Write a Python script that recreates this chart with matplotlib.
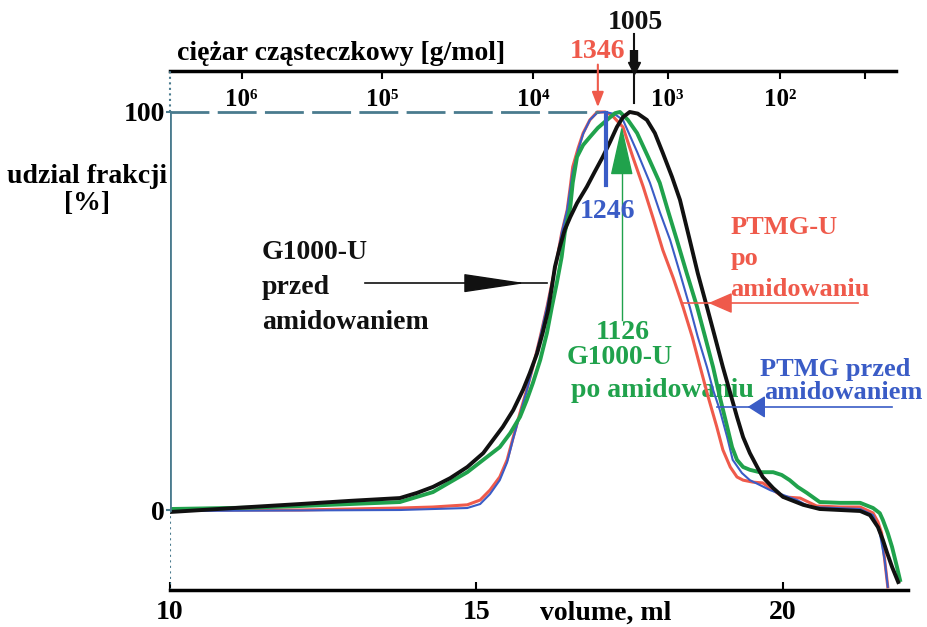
import matplotlib.pyplot as plt

plt.rcParams['font.family'] = ['Liberation Serif', 'DejaVu Serif']
plt.rcParams['font.weight'] = 'bold'

# krzywe GPC: objetosc elucji [ml] i udzial frakcji [%] (odczyt z wykresu)
v_g_przed = [10.0, 11.31, 12.12, 12.94, 13.75, 14.03, 14.29, 14.57, 14.85, 15.11,
             15.27, 15.43, 15.60, 15.76, 15.87, 15.99, 16.08, 16.17, 16.23, 16.28,
             16.36, 16.44, 16.53, 16.64, 16.80, 16.93, 17.06, 17.18, 17.29, 17.39,
             17.50, 17.63, 17.78, 17.91, 18.04, 18.19, 18.32, 18.48, 18.61, 18.76,
             18.89, 19.02, 19.14, 19.25, 19.35, 19.46, 19.58, 19.67, 19.84, 20.00,
             20.33, 20.60, 21.26, 21.42, 21.55, 21.63, 21.70, 21.78, 21.88]
y_g_przed = [-0.5, 0.75, 1.5, 2.3, 3.0, 4.3, 5.8, 8.0, 10.8, 14.3,
             17.6, 20.9, 25.1, 30.2, 34.4, 39.4, 44.5, 50.3, 56.0, 61.1,
             66.1, 70.4, 73.6, 77.1, 81.2, 85.0, 88.7, 92.5, 96.2, 98.7,
             100.0, 99.6, 98.0, 94.7, 89.7, 83.7, 77.9, 67.8, 59.5, 51.0,
             43.5, 35.9, 29.4, 23.4, 18.3, 14.3, 10.8, 8.3, 5.5, 3.3,
             1.3, 0.25, -0.25, -1.3, -4.3, -7.5, -10.8, -14.3, -18.1]

v_g_po = [10.0, 11.31, 12.12, 12.94, 13.75, 14.29, 14.85, 15.11, 15.38, 15.55,
          15.71, 15.82, 15.92, 16.04, 16.15, 16.23, 16.31, 16.39, 16.44, 16.53,
          16.57, 16.64, 16.74, 16.85, 16.98, 17.13, 17.26, 17.34, 17.47, 17.62,
          17.80, 17.99, 18.12, 18.27, 18.43, 18.60, 18.73, 18.86, 18.97, 19.09,
          19.17, 19.25, 19.35, 19.46, 19.62, 19.84, 19.98, 20.11, 20.24, 20.39,
          20.60, 20.93, 21.26, 21.47, 21.58, 21.63, 21.71, 21.78, 21.86, 21.91]
y_g_po = [0.25, 0.6, 1.0, 1.5, 2.0, 4.5, 9.5, 12.6, 15.8, 19.3,
          23.4, 27.6, 31.9, 37.7, 44.5, 51.0, 57.0, 63.6, 69.6, 76.1,
          82.2, 88.7, 91.7, 93.7, 96.0, 98.0, 99.7, 100.0, 98.0, 94.7,
          88.7, 82.2, 75.4, 67.8, 59.5, 51.0, 43.5, 35.9, 28.4, 20.9,
          15.8, 12.6, 10.8, 10.1, 9.5, 9.5, 8.8, 7.5, 5.8, 4.3,
          2.0, 1.8, 1.8, 0.5, -0.8, -2.5, -5.8, -9.3, -14.3, -17.6]

v_ptmgu_po = [10.0, 12.12, 13.75, 14.29, 14.85, 15.06, 15.22, 15.38, 15.50, 15.60,
              15.71, 15.82, 15.92, 16.04, 16.15, 16.23, 16.31, 16.39, 16.48, 16.53,
              16.57, 16.66, 16.74, 16.85, 16.97, 17.10, 17.22, 17.39, 17.55, 17.72,
              17.88, 18.04, 18.21, 18.37, 18.52, 18.65, 18.78, 18.92, 19.02, 19.14,
              19.25, 19.35, 19.51, 19.67, 19.84, 20.00, 20.28, 20.55, 20.93, 21.26,
              21.47, 21.55, 21.61, 21.66, 21.71]
y_ptmgu_po = [0.0, 0.0, 0.5, 0.75, 1.3, 2.5, 5.0, 8.3, 12.6, 18.3,
              24.4, 30.2, 35.9, 43.5, 51.0, 57.0, 62.8, 69.6, 75.4, 81.2,
              86.2, 91.0, 94.7, 98.0, 100.0, 100.0, 99.0, 96.2, 88.7, 81.2,
              73.4, 65.3, 58.3, 51.0, 43.5, 35.9, 28.4, 20.9, 15.1, 10.8,
              8.3, 7.5, 7.0, 6.8, 5.0, 3.3, 3.0, 1.0, 0.75, 0.75,
              -0.75, -3.0, -5.8, -12.6, -19.3]

v_ptmg_przed = [10.0, 13.75, 14.85, 15.06, 15.22, 15.38, 15.50, 15.60, 15.71, 15.82,
                15.92, 16.04, 16.15, 16.23, 16.31, 16.39, 16.48, 16.57, 16.66, 16.74,
                16.85, 16.97, 17.10, 17.25, 17.39, 17.62, 17.83, 17.99, 18.16, 18.32,
                18.48, 18.61, 18.76, 18.86, 18.97, 19.09, 19.18, 19.33, 19.46, 19.62,
                19.79, 20.00, 20.23, 20.44, 21.26, 21.47, 21.58, 21.66, 21.71]
y_ptmg_przed = [-0.25, 0.0, 0.5, 1.5, 4.0, 7.5, 12.0, 18.0, 24.0, 30.0,
                35.9, 43.5, 51.0, 57.0, 62.8, 69.6, 75.4, 85.0, 90.5, 94.5,
                98.0, 99.8, 100.0, 99.5, 98.0, 90.0, 82.2, 74.9, 67.8, 59.5,
                51.0, 43.5, 35.9, 30.2, 25.1, 18.3, 12.6, 9.3, 7.5, 6.3,
                5.0, 3.8, 2.5, 0.75, 0.25, -1.3, -5.8, -12.6, -19.3]

# skala masy czasteczkowej (gorna os)
mw_pos = [11.17, 13.46, 15.92, 18.12, 19.95, 21.34]
mw_labels = ['10⁶', '10⁵', '10⁴', '10³', '10²', '']
vol_ticks = [10, 15, 20]
mn_labels = ['1005', '1346', '1246', '1126']

c_black = '#111111'
c_green = '#20a24c'
c_red = '#ef5a4b'
c_blue = '#3a5cc6'
c_axis = '#4a7b8e'
fs = 20

fig = plt.figure(figsize=(9.27, 6.27), dpi=100)
ax = fig.add_axes([0.1834, 0.059, 0.7961, 0.8278])
ax.set_xlim(10, 22.04)
ax.set_ylim(-20.1, 110.3)

ax.plot(v_ptmgu_po, y_ptmgu_po, color=c_red, lw=2.2)
ax.plot(v_ptmg_przed, y_ptmg_przed, color=c_blue, lw=1.5)
ax.plot(v_g_po, y_g_po, color=c_green, lw=2.8)
ax.plot(v_g_przed, y_g_przed, color=c_black, lw=2.8)

# os y i linia 100 %
ax.plot([10, 10], [0, 100], color=c_axis, lw=2)
ax.plot([10, 10], [100, 110.3], color=c_axis, lw=1.5, ls=':', clip_on=False)
ax.plot([10, 10], [-20.1, 0], color=c_axis, lw=1.5, ls=':')
ax.plot([10, 17.0], [100, 100], color=c_axis, lw=2, ls=(0, (14, 3)))

for s in ['left', 'right', 'top']:
    ax.spines[s].set_visible(False)
ax.spines['bottom'].set_linewidth(2.5)
ax.set_xticks(vol_ticks)
ax.tick_params(axis='x', direction='in', length=6, width=1.5, labelsize=fs, pad=7)
ax.set_yticks([0, 100])
ax.tick_params(axis='y', direction='out', length=3, width=1.5, color=c_axis,
               labelsize=fs, pad=0.5)

sec = ax.secondary_xaxis('top')
sec.set_xticks(mw_pos, labels=mw_labels)
sec.spines['top'].set_linewidth(2.5)
sec.spines['top'].set_bounds(10, 21.85)
sec.tick_params(direction='in', length=6, width=1.5, labelsize=18, pad=-29)

ax.text(10.11, 114.6, 'ciężar cząsteczkowy [g/mol]', fontsize=fs, ha='left', va='center',
        clip_on=False)
ax.text(17.11, -25.9, 'volume, ml', fontsize=fs, ha='center', va='center', clip_on=False)
ax.text(8.65, 83.7, 'udzial frakcji', fontsize=fs, ha='center', va='center')
ax.text(8.65, 77.1, '[%]', fontsize=fs, ha='center', va='center')

# Mn przy szczytach
ax.text(17.60, 122.6, mn_labels[0], fontsize=fs, ha='center', va='center', color=c_black)
ax.plot([17.57, 17.57], [119.5, 102.3], color=c_black, lw=1.5, clip_on=False)
ax.plot([17.57, 17.57], [115.6, 112.5], color=c_black, lw=6, solid_capstyle='butt',
        clip_on=False)
ax.plot(17.57, 111.0, marker='v', ms=9, color=c_black, clip_on=False)

ax.text(16.98, 115.1, mn_labels[1], fontsize=fs, ha='center', va='center', color=c_red)
ax.annotate('', xy=(16.98, 100.5), xytext=(16.98, 112.6),
            arrowprops=dict(arrowstyle='-|>,head_length=0.9,head_width=0.35', color=c_red, lw=1.5),
            annotation_clip=False)

ax.plot([17.11, 17.11], [99.7, 81.7], color=c_blue, lw=3)
ax.text(17.13, 75.1, mn_labels[2], fontsize=fs, ha='center', va='center', color=c_blue)

ax.plot([17.37, 17.37], [86, 47.7], color=c_green, lw=1)
ax.annotate('', xy=(17.37, 97.2), xytext=(17.37, 85.9),
            arrowprops=dict(arrowstyle='-|>,head_length=3.2,head_width=0.72', color=c_green, lw=1))
ax.text(17.39, 44.7, mn_labels[3], fontsize=fs, ha='center', va='center', color=c_green)
ax.text(17.34, 38.4, 'G1000-U', fontsize=fs, ha='center', va='center', color=c_green)
ax.text(16.54, 29.9, 'po amidowaniu', fontsize=fs, ha='left', va='center', color=c_green,
        zorder=1)

# opisy krzywych ze strzalkami
ax.text(11.50, 64.8, 'G1000-U', fontsize=fs, ha='left', va='center', color=c_black)
ax.text(11.50, 56.0, 'przed', fontsize=fs, ha='left', va='center', color=c_black)
ax.text(11.50, 47.2, 'amidowaniem', fontsize=fs, ha='left', va='center', color=c_black)
ax.plot([13.18, 16.15], [57.0, 57.0], color=c_black, lw=1.2)
ax.annotate('', xy=(15.84, 57.0), xytext=(14.93, 57.0),
            arrowprops=dict(arrowstyle='-|>,head_length=4,head_width=0.6', color=c_black, lw=1))

ax.text(19.14, 70.9, 'PTMG-U', fontsize=19, ha='left', va='center', color=c_red)
ax.text(19.14, 63.3, 'po', fontsize=19, ha='left', va='center', color=c_red)
ax.text(19.14, 55.5, 'amidowaniu', fontsize=19, ha='left', va='center', color=c_red)
ax.plot([18.35, 21.22], [52.0, 52.0], color=c_red, lw=1.2)
ax.annotate('', xy=(18.74, 52.0), xytext=(19.10, 52.0),
            arrowprops=dict(arrowstyle='-|>,head_length=1.5,head_width=0.65', color=c_red, lw=1))

ax.text(19.62, 35.4, 'PTMG przed', fontsize=19, ha='left', va='center', color=c_blue)
ax.text(19.70, 29.6, 'amidowaniem', fontsize=19, ha='left', va='center', color=c_blue)
ax.plot([18.92, 21.78], [25.9, 25.9], color=c_blue, lw=1.2)
ax.annotate('', xy=(19.38, 25.9), xytext=(19.62, 25.9),
            arrowprops=dict(arrowstyle='-|>,head_length=1.1,head_width=0.7', color=c_blue, lw=1))

fig.savefig('out.png', dpi=100)
